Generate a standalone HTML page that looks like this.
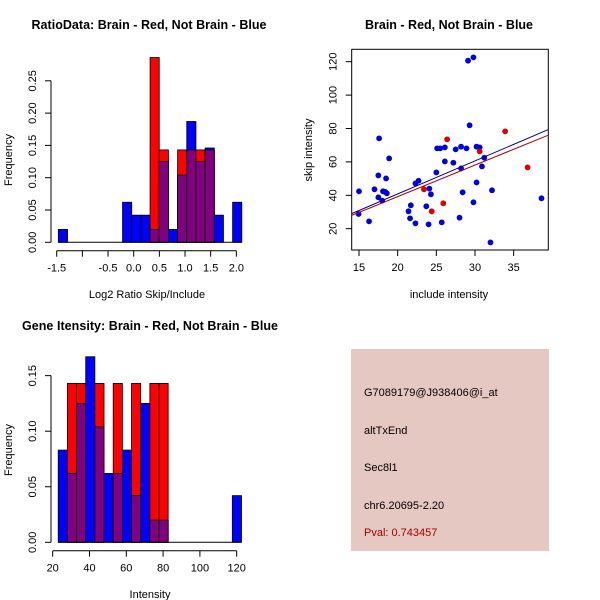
<!DOCTYPE html>
<html><head><meta charset="utf-8"><style>
body{margin:0;background:#fff}
svg{display:block;font-family:"Liberation Sans",sans-serif}
</style></head><body>
<svg id="c" width="600" height="600" viewBox="0 0 600 600">
<rect width="600" height="600" fill="#fff"/>
<g id="p1"></g>
<g id="p2"></g>
<g id="p3"></g>
<g>
<rect x="351" y="349" width="198" height="202" fill="#e6c8c2"/>
<text x="364" y="396" font-size="11">G7089179@J938406@i_at</text>
<text x="364" y="434" font-size="11">altTxEnd</text>
<text x="364" y="471" font-size="11">Sec8l1</text>
<text x="364" y="509" font-size="11">chr6.20695-2.20</text>
<text x="364" y="536" font-size="11" fill="#a00000">Pval: 0.743457</text>
</g>
</svg>
<script>
// ---- Panel 1 data ----
const ratioBinStart = -1.468;
const ratioBinWidth = 0.1787;
const ratioBlue = [0.02,0,0,0,0,0,0,0.062,0.042,0.042,0.02,0.125,0.02,0.104,0.187,0.125,0.146,0.042,0,0.062];
const ratioRed  = [0,0,0,0,0,0,0,0,0,0,0.286,0.143,0,0.143,0.143,0.143,0.143,0,0,0];
const ratioXTicks = [-1.5,-1.0,-0.5,0,0.5,1.0,1.5,2.0];
const ratioXLabels = ["-1.5","","-0.5","0.0","0.5","1.0","1.5","2.0"];
const ratioYTicks = [0,0.05,0.10,0.15,0.20,0.25];
const ratioYLabels = ["0.00","0.05","0.10","0.15","0.20","0.25"];
// ---- Panel 3 data ----
const intBinStart = 23;
const intBinWidth = 4.98;
const intBlue = [0.083,0.062,0.125,0.167,0.104,0.062,0.062,0.083,0.042,0.125,0.02,0.02,0,0,0,0,0,0,0,0.042];
const intRed  = [0,0.143,0.143,0,0.143,0,0.143,0,0.143,0,0.143,0.143,0,0,0,0,0,0,0,0];
const intXTicks = [20,40,60,80,100,120];
const intYTicks = [0,0.05,0.10,0.15];
const intYLabels = ["0.00","0.05","0.10","0.15"];
// ---- Panel 2 data ----
const blueX = [15.0,14.95,16.3,17.0,17.6,17.5,17.5,18.0,18.1,18.4,18.6,18.5,18.9,21.4,21.7,21.6,22.3,22.3,22.7,23.7,24.0,24.1,24.3,25.0,25.1,25.5,25.7,26.1,26.1,27.2,27.5,28.2,28.2,28.0,28.4,28.9,29.1,29.8,29.3,29.8,30.2,30.2,30.6,30.9,31.2,32.0,32.2,38.6];
const blueY = [42.4,28.8,24.4,43.6,74.1,51.9,38.8,36.8,42.4,42.0,41.2,50.1,62.1,30.4,34.0,26.2,23.2,47.1,48.7,33.4,22.6,44.0,40.6,53.7,68.1,68.1,23.8,68.7,60.3,59.5,67.5,69.1,56.1,26.6,41.8,68.1,120.6,122.6,81.9,35.8,47.7,69.1,68.7,57.3,62.5,11.8,43.0,38.2];
const redX = [23.4,24.4,25.9,26.4,30.6,33.9,36.8];
const redY = [43.6,30.4,35.2,73.5,66.3,78.3,56.7];
const fitSlope = [1.98,1.89];      // blue, red
const fitIntercept = [1.2,1.4];
const scatXTicks = [15,20,25,30,35];
const scatYTicks = [20,40,60,80,100,120];

const NS="http://www.w3.org/2000/svg";
function mk(parent,tag,attrs,text){const e=document.createElementNS(NS,tag);for(const k in attrs)e.setAttribute(k,attrs[k]);if(text!==undefined)e.textContent=text;parent.appendChild(e);return e;}
function ylabel(g,x,y,t,fs){return mk(g,'text',{x:x,y:y,'font-size':fs||11,'text-anchor':'middle',transform:`rotate(-90 ${x} ${y})`},t);}

function hist(g,o){
  const sx=v=>o.x0+(v-o.d0)*o.kx, sy=v=>o.y0-v*o.ky;
  for(let i=0;i<o.blue.length;i++){
    const l=sx(o.bs+i*o.bw), r=sx(o.bs+(i+1)*o.bw), w=r-l;
    const b=o.blue[i], rd=o.red[i], m=Math.min(b,rd);
    if(b>0){const e=mk(g,'rect',{x:l,y:sy(b),width:w,height:sy(0)-sy(b),fill:'#0000ff',stroke:'#000','stroke-width':0.8});
      
      }
    if(rd>0){const e=mk(g,'rect',{x:l,y:sy(rd),width:w,height:sy(0)-sy(rd),fill:'#ff0000',stroke:'#000','stroke-width':0.8});
      
      }
    if(m>0){const e=mk(g,'rect',{x:l,y:sy(m),width:w,height:sy(0)-sy(m),fill:'#800080',stroke:'#000','stroke-width':0.8});
      
      }
  }
  mk(g,'line',{x1:sx(o.bs),x2:sx(o.bs+o.blue.length*o.bw),y1:sy(0),y2:sy(0),stroke:'#000'});
  const xa=mk(g,'g',{});
  
  
  mk(xa,'line',{x1:sx(o.xt[0]),x2:sx(o.xt[o.xt.length-1]),y1:o.ax,y2:o.ax,stroke:'#000'});
  o.xt.forEach((t,i)=>{mk(xa,'line',{x1:sx(t),x2:sx(t),y1:o.ax,y2:o.ax+6,stroke:'#000'});
    mk(xa,'text',{x:sx(t),y:o.ax+21,'font-size':11,'text-anchor':'middle'},o.xl[i]);});
  const ya=mk(g,'g',{});
  
  
  mk(ya,'line',{x1:51,x2:51,y1:sy(o.yt[0]),y2:sy(o.yt[o.yt.length-1]),stroke:'#000'});
  o.yt.forEach((t,i)=>{mk(ya,'line',{x1:45,x2:51,y1:sy(t),y2:sy(t),stroke:'#000'});
    ylabel(ya,36,sy(t),o.yl[i]);});
}

// Panel 1
const g1=document.getElementById('p1');
mk(g1,'text',{x:149,y:29,'font-size':12.5,'font-weight':'bold','text-anchor':'middle',textLength:235,},'RatioData: Brain - Red, Not Brain - Blue');
hist(g1,{x0:56.7,d0:-1.5,kx:51.33,y0:242.3,ky:646,bs:ratioBinStart,bw:ratioBinWidth,blue:ratioBlue,red:ratioRed,xt:ratioXTicks,xl:ratioXLabels,yt:ratioYTicks,yl:ratioYLabels,ax:250.7});
mk(g1,'text',{x:147,y:298,'font-size':11,'text-anchor':'middle',},'Log2 Ratio Skip/Include');
mk(g1,'text',{x:0,y:0,'font-size':11,'text-anchor':'middle',transform:'translate(12,160) rotate(-90)',},'Frequency');

// Panel 3
const g3=document.getElementById('p3');
mk(g3,'text',{x:150,y:330,'font-size':12.5,'font-weight':'bold','text-anchor':'middle',textLength:256,},'Gene Itensity: Brain - Red, Not Brain - Blue');
hist(g3,{x0:52.7,d0:20,kx:1.84,y0:542.3,ky:1111,bs:intBinStart,bw:intBinWidth,blue:intBlue,red:intRed,xt:intXTicks,xl:intXTicks.map(String),yt:intYTicks,yl:intYLabels,ax:550.7});
mk(g3,'text',{x:150,y:598,'font-size':11,'text-anchor':'middle',},'Intensity');
mk(g3,'text',{x:0,y:0,'font-size':11,'text-anchor':'middle',transform:'translate(12,450) rotate(-90)',},'Frequency');

// Panel 2
const g2=document.getElementById('p2');
const L=351.7,R=548.3,T=49.3,B=250;
const px=v=>359+(v-15)*7.733, py=v=>228.7-(v-20)*1.67;
mk(g2,'text',{x:449,y:29,'font-size':12.5,'font-weight':'bold','text-anchor':'middle',textLength:168,},'Brain - Red, Not Brain - Blue');
mk(g2,'rect',{x:L,y:T,width:R-L,height:B-T,fill:'none',stroke:'#000',});
const cp=mk(g2,'clipPath',{id:'cl'});mk(cp,'rect',{x:L,y:T,width:R-L,height:B-T});
const dp=mk(g2,'g',{'clip-path':'url(#cl)'});
const xL=15+(L-359)/7.733, xR=15+(R-359)/7.733;
blueX.forEach((x,i)=>{const c=mk(dp,'circle',{cx:px(x),cy:py(blueY[i]),r:2.9,fill:'#0000dd'});
  
  });
redX.forEach((x,i)=>{const c=mk(dp,'circle',{cx:px(x),cy:py(redY[i]),r:2.9,fill:'#dd0000'});
  
  });
['#00008b','#b00000'].forEach((col,i)=>{const l=mk(dp,'line',{x1:L,x2:R,y1:py(fitIntercept[i]+fitSlope[i]*xL),y2:py(fitIntercept[i]+fitSlope[i]*xR),stroke:col,'stroke-width':1});
  
  });
const sxa=mk(g2,'g',{});
scatXTicks.forEach(t=>{mk(sxa,'line',{x1:px(t),x2:px(t),y1:B,y2:B+6,stroke:'#000'});
  mk(sxa,'text',{x:px(t),y:B+21,'font-size':11,'text-anchor':'middle'},String(t));});
const sya=mk(g2,'g',{});
scatYTicks.forEach(t=>{mk(sya,'line',{x1:L-6,x2:L,y1:py(t),y2:py(t),stroke:'#000'});
  ylabel(sya,L-15,py(t),String(t));});
mk(g2,'text',{x:449,y:298,'font-size':11,'text-anchor':'middle',},'include intensity');
mk(g2,'text',{x:0,y:0,'font-size':11,'text-anchor':'middle',transform:'translate(312,150) rotate(-90)',},'skip intensity');
</script>
</body></html>
